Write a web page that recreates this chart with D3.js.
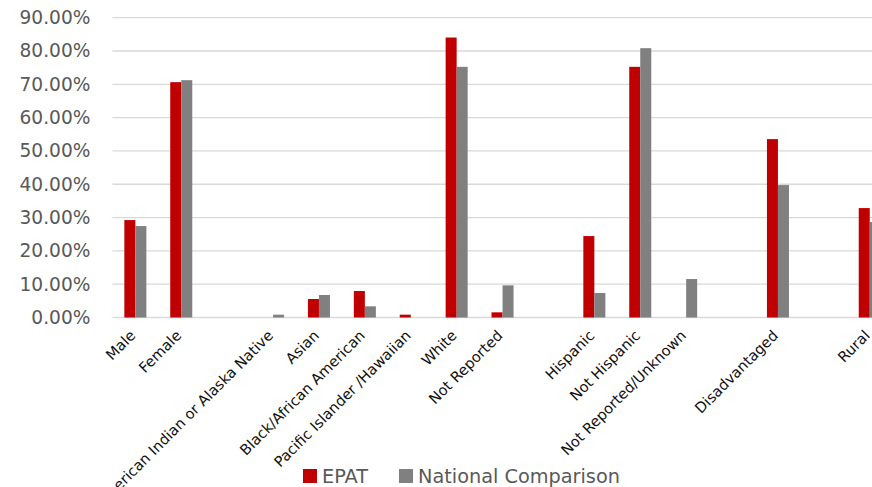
<!DOCTYPE html>
<html>
<head>
<meta charset="utf-8">
<script src="https://cdn.jsdelivr.net/npm/d3@7/dist/d3.min.js"></script>
<style>
  html, body { margin: 0; padding: 0; background: #fff; }
  svg { display: block; font-family: "DejaVu Sans", "Liberation Sans", Arial, sans-serif; }
</style>
</head>
<body>
<svg id="chart" width="872" height="487"></svg>
<script>
// Demographic categories; empty strings leave a spacer slot between groups.
const categories = [
  "Male", "Female", "",
  "American Indian or Alaska Native", "Asian", "Black/African American",
  "Pacific Islander /Hawaiian", "White", "Not Reported", "",
  "Hispanic", "Not Hispanic", "Not Reported/Unknown", "",
  "Disadvantaged", "", "Rural"
];
const seriesNames = ["EPAT", "National Comparison"];
const epat = [29.25, 70.65, null, 0, 5.55, 7.95, 0.85, 84.05, 1.55, null, 24.45, 75.25, 0, null, 53.55, null, 32.85];
const national = [27.45, 71.25, null, 0.85, 6.75, 3.35, 0, 75.25, 9.65, null, 7.35, 80.85, 11.55, null, 39.75, null, 28.65];
const yTicks = [0, 10, 20, 30, 40, 50, 60, 70, 80, 90];
const colors = ["#C00000", "#808080"];

const svg = d3.select("#chart");
const plot = { left: 112.4, right: 892.7, top: 17.7, bottom: 317.5 };

const x = d3.scaleBand()
  .domain(d3.range(categories.length))
  .range([plot.left, plot.right])
  .paddingInner(0.52)
  .paddingOuter(0.26);

const xSeries = d3.scaleBand()
  .domain(d3.range(seriesNames.length))
  .range([0, x.bandwidth()]);

const y = d3.scaleLinear().domain([0, 90]).range([plot.bottom, plot.top]);

// Horizontal gridlines
svg.append("g")
  .selectAll("line")
  .data(yTicks)
  .join("line")
  .attr("x1", plot.left)
  .attr("x2", plot.right)
  .attr("y1", d => y(d))
  .attr("y2", d => y(d))
  .attr("stroke", "#D9D9D9")
  .attr("stroke-width", 1.3);

// Y axis labels
const yAxis = svg.append("g")
  .attr("transform", `translate(${plot.left}, 0)`)
  .call(d3.axisLeft(y).tickValues(yTicks).tickFormat(d => d.toFixed(2) + "%").tickSize(0).tickPadding(22));
yAxis.select(".domain").remove();
yAxis.selectAll("text")
  .attr("fill", "#595959")
  .style("font-family", "'DejaVu Sans', sans-serif")
  .style("font-size", "18.6px");

// Bars
const series = [epat, national];
const groups = svg.append("g")
  .selectAll("g")
  .data(series)
  .join("g")
  .attr("fill", (d, i) => colors[i]);

groups.each(function(values, si) {
  d3.select(this).selectAll("rect")
    .data(values.map((v, i) => ({ v, i })).filter(d => d.v !== null && d.v > 0))
    .join("rect")
    .attr("x", d => x(d.i) + xSeries(si))
    .attr("width", xSeries.bandwidth())
    .attr("y", d => y(d.v))
    .attr("height", d => y(0) - y(d.v));
});

// Category labels, rotated 45 degrees
const xAxis = svg.append("g")
  .attr("transform", `translate(0, ${plot.bottom})`)
  .call(d3.axisBottom(x).tickFormat(i => categories[i]).tickSize(0).tickPadding(0));
xAxis.select(".domain").remove();
xAxis.selectAll("text")
  .attr("fill", "#111")
  .style("font-family", "'DejaVu Sans', sans-serif")
  .style("font-size", "14.6px")
  .attr("text-anchor", "end")
  .attr("dy", 0)
  .attr("transform", "translate(1, 19) rotate(-45)");

// Legend
const legend = svg.append("g").attr("transform", "translate(303, 469)");
const offsets = [0, 96];
seriesNames.forEach((name, i) => {
  const g = legend.append("g").attr("transform", `translate(${offsets[i]}, 0)`);
  g.append("rect").attr("width", 14).attr("height", 14).attr("fill", colors[i]);
  g.append("text")
    .attr("x", 19)
    .attr("y", 14)
    .attr("fill", "#595959")
    .style("font-family", "'DejaVu Sans', sans-serif")
    .style("font-size", "19.3px")
    .text(name);
});
</script>
</body>
</html>
